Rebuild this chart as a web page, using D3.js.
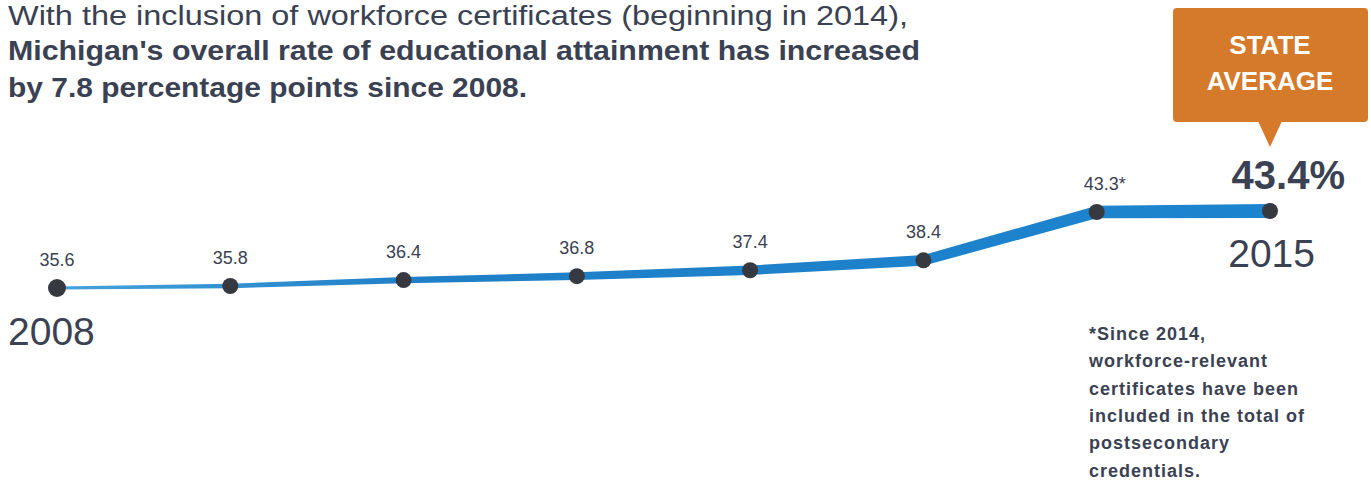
<!DOCTYPE html>
<html>
<head>
<meta charset="utf-8">
<script src="https://cdn.jsdelivr.net/npm/d3@7"></script>
<style>
  body { margin: 0; background: #fff; }
  svg { display: block; }
</style>
</head>
<body>
<script>
// data
var years = [2008, 2009, 2010, 2011, 2012, 2013, 2014, 2015];
var rates = [35.6, 35.8, 36.4, 36.8, 37.4, 38.4, 43.3, 43.4];
var valueLabels = ['35.6', '35.8', '36.4', '36.8', '37.4', '38.4', '43.3*', ''];
var titleLines = [
  'With the inclusion of workforce certificates (beginning in 2014),',
  "Michigan's overall rate of educational attainment has increased",
  'by 7.8 percentage points since 2008.'
];
var noteLines = ['*Since 2014,', 'workforce-relevant', 'certificates have been',
  'included in the total of', 'postsecondary', 'credentials.'];

var width = 1371, height = 485;
var textColor = '#3a4152', dotColor = '#363a40', orange = '#d5792b';

var svg = d3.select('body').append('svg')
    .attr('width', width)
    .attr('height', height)
    .style('font-family', '"Liberation Sans", Arial, sans-serif');

//scales
var xScale = d3.scalePoint().domain(years).range([57, 1270]);
var yScale = d3.scaleLinear().domain([35.6, 43.3]).range([288, 212]);

var data = years.map(function(y, i) {
  return {year: y, rate: rates[i], label: valueLabels[i], w: 3 + 11 * i / (years.length - 1)};
});

//line gets darker as it goes
var grad = svg.append('defs').append('linearGradient')
    .attr('id', 'lineGrad')
    .attr('gradientUnits', 'userSpaceOnUse')
    .attr('x1', xScale(years[0])).attr('x2', xScale(years[years.length - 1]))
    .attr('y1', 0).attr('y2', 0);
grad.append('stop').attr('offset', '0%').attr('stop-color', '#45a2dc');
grad.append('stop').attr('offset', '30%').attr('stop-color', '#1f7fc6');
grad.append('stop').attr('offset', '100%').attr('stop-color', '#1c84cf');

//title (widths fitted to the picture)
var titleEnds = [908, 920, 527];
var titleY = [25, 60, 97];
titleLines.forEach(function(t, i) {
  svg.append('text')
      .attr('x', 8).attr('y', titleY[i])
      .attr('fill', textColor)
      .attr('textLength', titleEnds[i] - 8)
      .attr('lengthAdjust', 'spacingAndGlyphs')
      .style('font-size', i === 0 ? '27px' : '28px')
      .style('font-weight', i === 0 ? 'normal' : 'bold')
      .text(t);
});

//tapered line
var band = d3.area()
    .x(function(d) { return xScale(d.year); })
    .y0(function(d) { return yScale(d.rate) - d.w / 2; })
    .y1(function(d) { return yScale(d.rate) + d.w / 2; });

svg.append('path')
    .datum(data)
    .attr('d', band)
    .attr('fill', 'url(#lineGrad)');

//points
svg.selectAll('.dot')
    .data(data)
  .enter().append('circle')
    .attr('class', 'dot')
    .attr('cx', function(d) { return xScale(d.year); })
    .attr('cy', function(d) { return yScale(d.rate); })
    .attr('r', function(d, i) { return i === 0 ? 9 : 8; })
    .attr('fill', dotColor);

//value labels
svg.selectAll('.val')
    .data(data)
  .enter().append('text')
    .attr('class', 'val')
    .attr('x', function(d) { return xScale(d.year); })
    .attr('y', function(d) { return yScale(d.rate) - 22; })
    .attr('dx', function(d) { return d.label.slice(-1) === '*' ? 8 : 0; })
    .attr('text-anchor', 'middle')
    .attr('fill', textColor)
    .style('font-size', '18px')
    .text(function(d) { return d.label; });

//first and last year
var first = data[0], last = data[data.length - 1];
svg.append('text')
    .attr('x', 8).attr('y', yScale(first.rate) + 57)
    .attr('fill', textColor)
    .style('font-size', '39px')
    .text(first.year);
svg.append('text')
    .attr('x', 1315).attr('y', yScale(last.rate) + 56)
    .attr('text-anchor', 'end')
    .attr('fill', textColor)
    .style('font-size', '39px')
    .text(last.year);
svg.append('text')
    .attr('x', 1345).attr('y', yScale(last.rate) - 22)
    .attr('text-anchor', 'end')
    .attr('fill', textColor)
    .style('font-size', '40px')
    .style('font-weight', 'bold')
    .text(last.rate + '%');

//state average callout
var cx = xScale(last.year);
svg.append('rect')
    .attr('x', 1173).attr('y', 8)
    .attr('width', 195).attr('height', 114)
    .attr('rx', 4)
    .attr('fill', orange);
svg.append('path')
    .attr('d', 'M' + (cx - 12) + ',121 L' + (cx + 12) + ',121 L' + cx + ',147 Z')
    .attr('fill', orange);
['STATE', 'AVERAGE'].forEach(function(t, i) {
  svg.append('text')
      .attr('x', cx).attr('y', 54 + i * 36)
      .attr('text-anchor', 'middle')
      .attr('fill', '#fff')
      .style('font-size', '26px')
      .style('font-weight', 'bold')
      .text(t);
});

//footnote
noteLines.forEach(function(t, i) {
  svg.append('text')
      .attr('x', 1089).attr('y', 340 + i * 27.3)
      .attr('fill', textColor)
      .style('font-size', '18px')
      .style('font-weight', 'bold')
      .style('letter-spacing', '1px')
      .text(t);
});
</script>
</body>
</html>
